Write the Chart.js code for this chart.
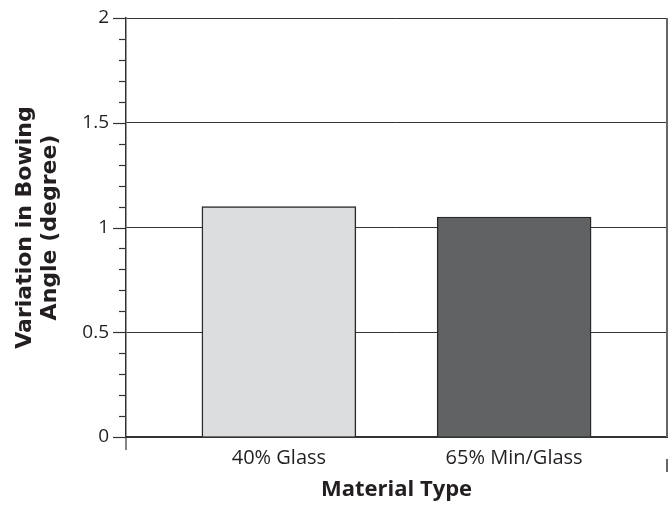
<!DOCTYPE html>
<html>
<head>
<meta charset="utf-8">
<script src="https://cdn.jsdelivr.net/npm/chart.js@4"></script>
<style>
  body { margin: 0; background: #fff; }
</style>
</head>
<body>
<canvas id="bowingChart" width="669" height="508"></canvas>
<script>
// chart data
const categories = ['40% Glass', '65% Min/Glass'];
const bowingVariation = [1.1, 1.05];
const yTickValues = [0, 0.5, 1, 1.5, 2];

const ink = '#231f20';

// axis tick marks and the right edge of the frame
const framePlugin = {
    id: 'frame',
    afterDraw(chart) {
        const ctx = chart.ctx;
        const area = chart.chartArea;
        const y = chart.scales.y;
        ctx.save();
        ctx.strokeStyle = '#333';
        ctx.lineWidth = 1.2;
        for (let i = 0; i <= 20; i++) {
            const py = Math.round(y.getPixelForValue(i / 10)) + 0.5;
            const len = i % 5 === 0 ? 13 : 7;
            ctx.beginPath();
            ctx.moveTo(area.left - len, py);
            ctx.lineTo(area.left, py);
            ctx.stroke();
        }
        // left axis runs a bit below the x axis
        ctx.beginPath();
        ctx.moveTo(area.left, area.bottom);
        ctx.lineTo(area.left, area.bottom + 13);
        ctx.stroke();
        // right border
        ctx.strokeStyle = '#666';
        ctx.lineWidth = 2;
        ctx.beginPath();
        ctx.moveTo(area.right, area.top);
        ctx.lineTo(area.right, area.bottom);
        ctx.stroke();
        ctx.beginPath();
        ctx.moveTo(area.right, area.bottom + 22);
        ctx.lineTo(area.right, area.bottom + 35);
        ctx.stroke();
        ctx.restore();
    }
};

var ctx = document.getElementById('bowingChart').getContext('2d');
var bowingChart = new Chart(ctx, {
    type: 'bar',
    data: {
        datasets: [{
            data: bowingVariation.map((v, i) => ({ x: i + 1, y: v })),
            backgroundColor: ['#dcdddf', '#616264'],
            borderColor: '#2a2a2a',
            borderWidth: 1.5,
            barThickness: 154
        }]
    },
    options: {
        responsive: false,
        animation: false,
        layout: { padding: { left: 0, right: 2, top: 18, bottom: 0 } },
        plugins: {
            legend: { display: false },
            tooltip: { enabled: false }
        },
        scales: {
            x: {
                type: 'linear',
                offset: false,
                min: 0.35,
                max: 2.65,
                afterBuildTicks: scale => {
                    scale.ticks = categories.map((c, i) => ({ value: i + 1 }));
                },
                afterFit: scale => { scale.height = 71; },
                grid: { display: false, drawTicks: false, offset: false },
                border: { display: true, color: '#333', width: 2 },
                ticks: {
                    padding: 9,
                    color: ink,
                    font: { family: 'Open Sans', size: 20 },
                    callback: value => categories[value - 1]
                },
                title: {
                    display: true,
                    text: 'Material Type',
                    color: ink,
                    font: { family: 'Open Sans', size: 22, weight: 'bold' },
                    padding: { top: 0, bottom: 5 }
                }
            },
            y: {
                min: 0,
                max: 2,
                afterBuildTicks: scale => {
                    scale.ticks = yTickValues.map(v => ({ value: v }));
                },
                afterFit: scale => {
                    scale.width = 126;
                    scale.paddingTop = 0;
                    scale.paddingBottom = 0;
                },
                grid: { color: '#333', lineWidth: 1, drawTicks: false },
                border: { display: true, color: '#333', width: 1.5 },
                ticks: {
                    padding: 17,
                    color: ink,
                    font: { family: 'Open Sans', size: 19 },
                    callback: value => String(value)
                },
                title: {
                    display: true,
                    text: ['Variation in Bowing', 'Angle (degree)'],
                    color: ink,
                    font: { family: 'DejaVu Sans', size: 22, weight: 'bold', lineHeight: 1.12 },
                    padding: { top: 13, bottom: 0 }
                }
            }
        }
    },
    plugins: [framePlugin]
});
</script>
</body>
</html>
